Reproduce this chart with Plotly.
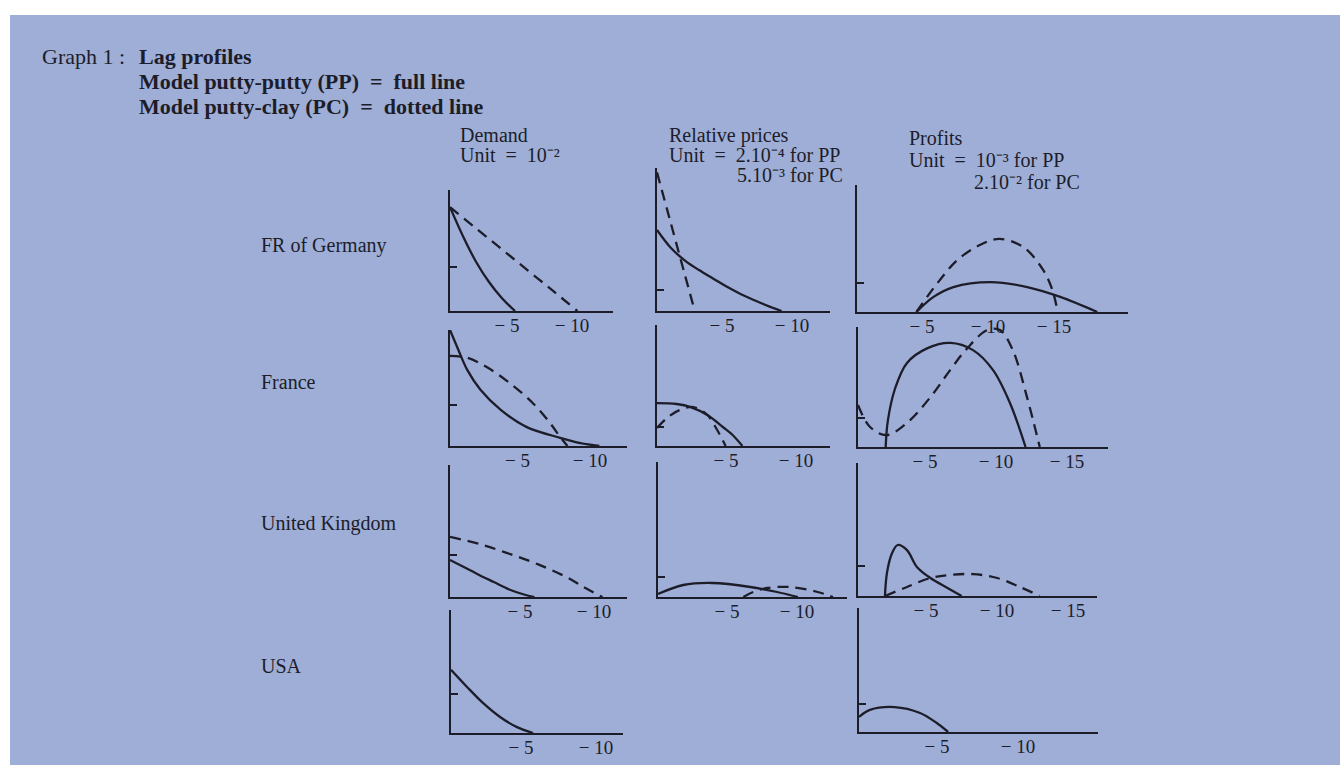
import plotly.graph_objects as go

# ---------------- data (lag, value in panel units; 1 unit = the y tick) ----------------
GER_DEM_PP_X = [0, -1, -2, -3, -4, -5]
GER_DEM_PP_Y = [2.36, 1.70, 1.12, 0.66, 0.29, 0.0]
GER_DEM_PC_X = [0, -2, -4, -6, -8, -9.8]
GER_DEM_PC_Y = [2.36, 1.88, 1.40, 0.92, 0.44, 0.0]
GER_REL_PP_X = [0, -1, -2, -3, -4, -5, -6, -7, -8, -8.9]
GER_REL_PP_Y = [3.86, 3.0, 2.4, 1.95, 1.55, 1.15, 0.8, 0.5, 0.22, 0.0]
GER_REL_PC_X = [0, -1, -2, -2.7]
GER_REL_PC_Y = [6.6, 4.15, 1.7, 0.0]
GER_PRO_PP_X = [-4.5, -5.8, -7.3, -10.1, -12.9, -15.4, -18.2]
GER_PRO_PP_Y = [0.0, 0.52, 0.86, 1.03, 0.86, 0.52, 0.0]
GER_PRO_PC_X = [-4.5, -6.1, -7.6, -9.3, -10.8, -12.6, -14.1, -14.8, -15.2]
GER_PRO_PC_Y = [0.0, 1.0, 1.79, 2.31, 2.52, 2.24, 1.45, 0.76, 0.0]

FRA_DEM_PP_X = [0, -0.5, -1.2, -2.1, -3.5, -5.3, -7.6, -9.0, -10.3]
FRA_DEM_PP_Y = [2.83, 2.41, 1.85, 1.37, 0.88, 0.46, 0.2, 0.07, 0.0]
FRA_DEM_PC_X = [0, -1.2, -2.5, -4.1, -5.7, -6.9, -7.6, -8.1]
FRA_DEM_PC_Y = [2.2, 2.15, 1.93, 1.54, 1.05, 0.56, 0.22, 0.0]
FRA_REL_PP_X = [0, -1.4, -2.4, -3.6, -4.7, -5.4, -6.1]
FRA_REL_PP_Y = [2.26, 2.21, 2.05, 1.63, 1.0, 0.58, 0.0]
FRA_REL_PC_X = [0, -0.7, -1.6, -2.6, -3.6, -4.3, -4.9]
FRA_REL_PC_Y = [0.95, 1.47, 1.89, 2.05, 1.63, 0.84, 0.0]
FRA_PRO_PP_X = [-1.95, -2.1, -2.6, -3.45, -4.9, -6.5, -8.1, -9.5, -10.7, -11.8]
FRA_PRO_PP_Y = [0.0, 0.9, 2.0, 2.9, 3.41, 3.59, 3.34, 2.66, 1.52, 0.0]
FRA_PRO_PC_X = [0, -0.85, -2.0, -3.45, -5.1, -6.5, -7.7, -9.1, -10.0, -10.9, -11.9, -12.8]
FRA_PRO_PC_Y = [1.45, 0.69, 0.41, 0.83, 1.72, 2.66, 3.41, 4.03, 4.03, 3.34, 1.72, 0.0]

UK_DEM_PP_X = [0, -1, -2, -3, -4, -5, -5.7]
UK_DEM_PP_Y = [0.88, 0.70, 0.52, 0.35, 0.18, 0.06, 0.0]
UK_DEM_PC_X = [0, -2, -4, -6, -8, -9, -10.3]
UK_DEM_PC_Y = [1.43, 1.26, 1.03, 0.77, 0.45, 0.24, 0.0]
UK_REL_PP_X = [0, -1.8, -3.9, -6.6, -8.5, -10]
UK_REL_PP_Y = [0.15, 0.6, 0.7, 0.5, 0.25, 0.0]
UK_REL_PC_X = [-6.1, -6.8, -7.8, -9.4, -11.4, -12.5]
UK_REL_PC_Y = [0.0, 0.25, 0.45, 0.5, 0.25, 0.0]
UK_PRO_PP_X = [-1.9, -2.04, -2.4, -2.8, -3.45, -4.15, -5.1, -6.3, -7.3]
UK_PRO_PP_Y = [0.0, 0.77, 1.43, 1.7, 1.53, 0.97, 0.6, 0.27, 0.0]
UK_PRO_PC_X = [-1.9, -3.45, -5.1, -6.5, -8.1, -9.8, -11.4, -12.8]
UK_PRO_PC_Y = [0.0, 0.3, 0.6, 0.7, 0.73, 0.6, 0.3, 0.0]

US_DEM_PP_X = [0, -1.07, -2.13, -3.27, -4.4, -5.47]
US_DEM_PP_Y = [1.62, 1.18, 0.77, 0.41, 0.15, 0.0]
US_PRO_PP_X = [0, -0.68, -2.2, -3.77, -4.8, -5.5]
US_PRO_PP_Y = [0.54, 0.79, 0.89, 0.68, 0.32, 0.0]

COUNTRIES = ["FR of Germany", "France", "United Kingdom", "USA"]
X_TICKS = [-5, -10, -15]
X_TICK_TEXT = ["\u2212 5", "\u2212 10", "\u2212 15"]

# ---------------- layout geometry (pixels) ----------------
W, H = 1340, 765
INK = "#1d1d2a"
BLUE = "#9eaed7"
FONT = "Liberation Serif, Times New Roman, serif"

# panel: (x0, xend, top, base, tick_y, px per lag, label shift, curves)
panels = [
    (450, 613, 190, 311, 267, 13.0, 8, [(GER_DEM_PP_X, GER_DEM_PP_Y, "solid"), (GER_DEM_PC_X, GER_DEM_PC_Y, "dash")]),
    (657, 830, 168, 311, 290, 14.0, 5, [(GER_REL_PP_X, GER_REL_PP_Y, "solid"), (GER_REL_PC_X, GER_REL_PC_Y, "dash")]),
    (857, 1128, 185, 312, 283, 13.2, 1, [(GER_PRO_PP_X, GER_PRO_PP_Y, "solid"), (GER_PRO_PC_X, GER_PRO_PC_Y, "dash")]),
    (450, 627, 330, 446, 405, 14.5, 5, [(FRA_DEM_PP_X, FRA_DEM_PP_Y, "solid"), (FRA_DEM_PC_X, FRA_DEM_PC_Y, "dash")]),
    (657, 830, 325, 446, 427, 14.0, 1, [(FRA_REL_PP_X, FRA_REL_PP_Y, "solid"), (FRA_REL_PC_X, FRA_REL_PC_Y, "dash")]),
    (858, 1108, 327, 447, 418, 14.2, 4, [(FRA_PRO_PP_X, FRA_PRO_PP_Y, "solid"), (FRA_PRO_PC_X, FRA_PRO_PC_Y, "dash")]),
    (450, 627, 465, 597, 555, 14.8, 4, [(UK_DEM_PP_X, UK_DEM_PP_Y, "solid"), (UK_DEM_PC_X, UK_DEM_PC_Y, "dash")]),
    (658, 847, 462, 597, 577, 14.0, 1, [(UK_REL_PP_X, UK_REL_PP_Y, "solid"), (UK_REL_PC_X, UK_REL_PC_Y, "dash")]),
    (858, 1097, 463, 596, 566, 14.2, 3, [(UK_PRO_PP_X, UK_PRO_PP_Y, "solid"), (UK_PRO_PC_X, UK_PRO_PC_Y, "dash")]),
    (451, 623, 610, 733, 694, 15.0, 5, [(US_DEM_PP_X, US_DEM_PP_Y, "solid")]),
    (859, 1098, 608, 732, 704, 16.2, 3, [(US_PRO_PP_X, US_PRO_PP_Y, "solid")]),
]

fig = go.Figure()
layout = {}
for i, (x0, x1, top, base, tick, sc, shift, curves) in enumerate(panels, start=1):
    xa = "x" if i == 1 else f"x{i}"
    ya = "y" if i == 1 else f"y{i}"
    xmax = -(x1 - x0) / sc
    ymax = (base - top) / (base - tick)
    for xs, ys, dash in curves:
        fig.add_trace(go.Scatter(
            x=xs, y=ys, mode="lines", xaxis=xa, yaxis=ya, showlegend=False,
            hoverinfo="skip",
            line=dict(color=INK, width=2.3, shape="spline", smoothing=1.0,
                      dash="solid" if dash == "solid" else "11px,7px"),
        ))
    layout["xaxis" if i == 1 else f"xaxis{i}"] = dict(
        domain=[x0 / W, x1 / W], anchor=ya, range=[0, xmax],
        showline=True, linecolor=INK, linewidth=2.2, showgrid=False, zeroline=False,
        tickvals=X_TICKS, ticktext=X_TICK_TEXT, ticks="",
        ticklabelstandoff=-4, ticklabelshift=shift,
        tickfont=dict(family=FONT, size=19, color=INK), fixedrange=True,
    )
    layout["yaxis" if i == 1 else f"yaxis{i}"] = dict(
        domain=[1 - base / H, 1 - top / H], anchor=xa, range=[0, ymax],
        showline=True, linecolor=INK, linewidth=2.2, showgrid=False, zeroline=False,
        tickvals=[1], ticks="inside", ticklen=7, tickwidth=1.6, tickcolor=INK,
        showticklabels=False, fixedrange=True,
    )

def px(x):
    return x / W

def py(y):
    return 1 - y / H

annotations = []

def txt(s, x, y, size, anchor="left", bold=False):
    annotations.append(dict(
        text=f"<b>{s}</b>" if bold else s, x=px(x), y=py(y), xref="paper", yref="paper",
        xanchor=anchor, yanchor="middle", showarrow=False,
        font=dict(family=FONT, size=size, color=INK),
    ))

txt("Graph 1 :", 40, 57, 22)
txt("Lag profiles", 137, 57, 22, bold=True)
txt("Model putty-putty (PP)  =  full line", 137, 82, 22, bold=True)
txt("Model putty-clay (PC)  =  dotted line", 137, 107, 22, bold=True)

txt("Demand", 458, 135, 20)
txt("Unit  =  10\u207b\u00b2", 458, 155, 20)
txt("Relative prices", 667, 135, 20)
txt("Unit  =  2.10\u207b\u2074 for PP", 667, 155, 20)
txt("5.10\u207b\u00b3 for PC", 845, 175, 20, anchor="right")
txt("Profits", 907, 138, 20)
txt("Unit  =  10\u207b\u00b3 for PP", 907, 160, 20)
txt("2.10\u207b\u00b2 for PC", 972, 182, 20)

for name, y in zip(COUNTRIES, [246, 382, 523, 666]):
    txt(name, 259, y, 20)

layout["annotations"] = annotations
layout["shapes"] = [dict(type="rect", xref="paper", yref="paper", x0=px(10), x1=1, y0=0, y1=py(15),
                         fillcolor=BLUE, line=dict(width=0), layer="below")]

fig.update_layout(
    width=W, height=H, margin=dict(l=0, r=0, t=0, b=0),
    paper_bgcolor="white", plot_bgcolor="rgba(0,0,0,0)",
    font=dict(family=FONT, color=INK), showlegend=False,
    **layout,
)

fig.write_html("out.html", config={"displayModeBar": False})
